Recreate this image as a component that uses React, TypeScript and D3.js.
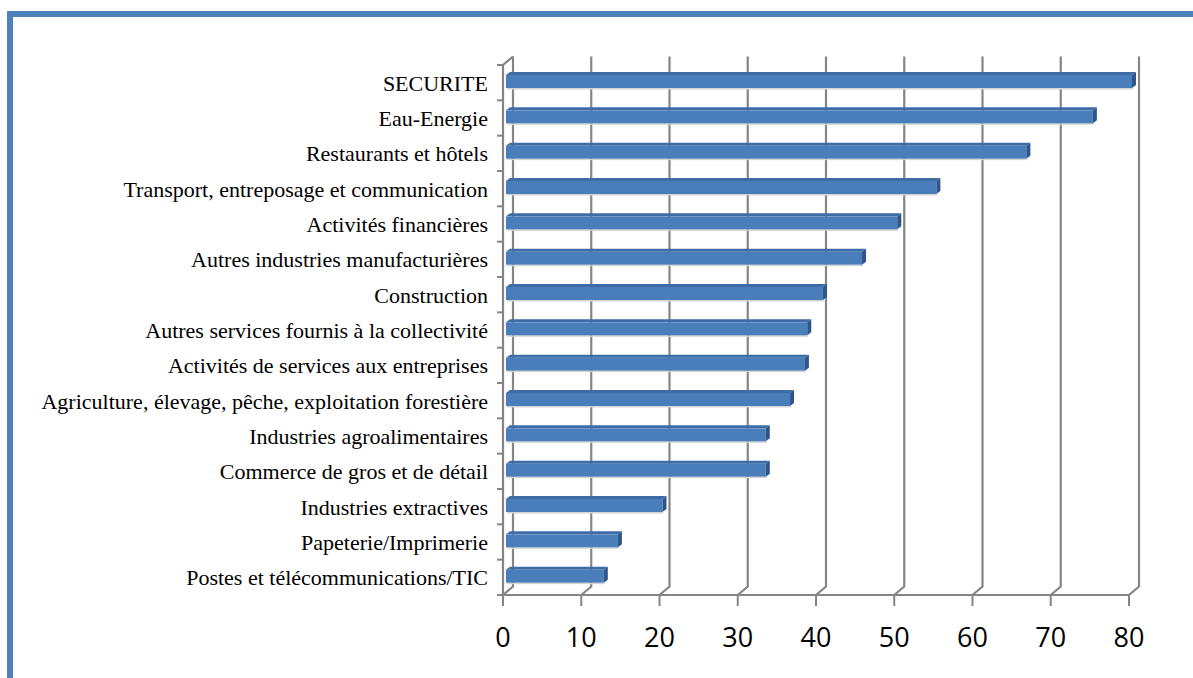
import { useRef, useEffect } from "react";
import * as d3 from "d3";

const categories = [
    "SECURITE",
    "Eau-Energie",
    "Restaurants et hôtels",
    "Transport, entreposage et communication",
    "Activités financières",
    "Autres industries manufacturières",
    "Construction",
    "Autres services fournis à la collectivité",
    "Activités de services aux entreprises",
    "Agriculture, élevage, pêche, exploitation forestière",
    "Industries agroalimentaires",
    "Commerce de gros et de détail",
    "Industries extractives",
    "Papeterie/Imprimerie",
    "Postes et télécommunications/TIC",
];

const values = [80, 75, 66.5, 55, 50, 45.5, 40.5, 38.5, 38.2, 36.3, 33.2, 33.2, 20, 14.3, 12.5];

const tickValues = [0, 10, 20, 30, 40, 50, 60, 70, 80];

const W = 1193;
const H = 678;

export default function App() {
    const svgRef = useRef<SVGSVGElement | null>(null);

    useEffect(() => {
        if (!svgRef.current) return;
        const svg = d3.select(svgRef.current);
        svg.selectAll("*").remove();

        const depth = { dx: 10, dy: -8.5 }; // back wall offset
        const barDepth = { dx: 4, dy: -3 };
        const grid = "#858585";

        const x = d3.scaleLinear().domain([0, 80]).range([503, 1129]);
        const y = d3.scaleBand<string>().domain(categories).range([65, 595]).paddingInner(0);
        const floorY = 595;
        const topY = 65;

        // outer frame
        svg.append("rect")
            .attr("x", 10).attr("y", 14)
            .attr("width", W + 40).attr("height", H + 40)
            .attr("fill", "none")
            .attr("stroke", "#4f81bd")
            .attr("stroke-width", 6);

        const g = svg.append("g");

        // gridlines on back wall + floor diagonals
        tickValues.forEach(t => {
            const fx = x(t);
            const bx = fx + depth.dx;
            g.append("path")
                .attr("d", `M${fx},${floorY} L${bx},${floorY + depth.dy} L${bx},${topY + depth.dy}`)
                .attr("fill", "none")
                .attr("stroke", grid)
                .attr("stroke-width", 2.2);
        });

        // left wall
        g.append("path")
            .attr("d", `M${x(0)},${floorY} L${x(0)},${topY} L${x(0) + depth.dx},${topY + depth.dy}`)
            .attr("fill", "none")
            .attr("stroke", grid)
            .attr("stroke-width", 2.2);

        // floor front edge
        g.append("line")
            .attr("x1", x(0)).attr("x2", x(80))
            .attr("y1", floorY).attr("y2", floorY)
            .attr("stroke", grid)
            .attr("stroke-width", 2.2);

        // category ticks
        d3.range(categories.length + 1).forEach(i => {
            const yy = topY + i * y.step();
            g.append("line")
                .attr("x1", x(0) - 6).attr("x2", x(0))
                .attr("y1", yy).attr("y2", yy)
                .attr("stroke", grid)
                .attr("stroke-width", 2);
        });

        // value ticks
        tickValues.forEach(t => {
            g.append("line")
                .attr("x1", x(t)).attr("x2", x(t))
                .attr("y1", floorY).attr("y2", floorY + 11)
                .attr("stroke", grid)
                .attr("stroke-width", 2);
        });

        // bars
        const bars = g.append("g");
        categories.forEach((c, i) => {
            const x0 = x(0) + 3;
            const x1 = x(values[i]) + 3;
            const yTop = y(c)! + 10;
            const h = 13;
            // soft shadow
            bars.append("rect")
                .attr("x", x0 + 1).attr("y", yTop + h)
                .attr("width", x1 - x0).attr("height", 1.5)
                .attr("fill", "#d4d4d4");
            // top face
            bars.append("path")
                .attr("d", `M${x0},${yTop} L${x1},${yTop} L${x1 + barDepth.dx},${yTop + barDepth.dy} L${x0 + barDepth.dx},${yTop + barDepth.dy} Z`)
                .attr("fill", "#3e6ca6");
            // front face
            bars.append("rect")
                .attr("x", x0).attr("y", yTop)
                .attr("width", x1 - x0).attr("height", h)
                .attr("fill", "#4a7ebb");
            // end cap
            bars.append("path")
                .attr("d", `M${x1},${yTop} L${x1 + barDepth.dx},${yTop + barDepth.dy} L${x1 + barDepth.dx},${yTop + h + barDepth.dy} L${x1},${yTop + h} Z`)
                .attr("fill", "#2f5689");
        });

        // category labels
        g.append("g")
            .selectAll("text")
            .data(categories)
            .enter()
            .append("text")
            .attr("x", 488)
            .attr("y", d => y(d)! + y.bandwidth() / 2 + 8)
            .attr("text-anchor", "end")
            .attr("font-family", "'Liberation Serif', 'Times New Roman', serif")
            .attr("font-size", 22)
            .attr("fill", "#000")
            .text(d => d);

        // value tick labels
        g.append("g")
            .selectAll("text")
            .data(tickValues)
            .enter()
            .append("text")
            .attr("x", d => x(d))
            .attr("y", 647)
            .attr("text-anchor", "middle")
            .attr("font-family", "'Open Sans', sans-serif")
            .attr("font-size", 27)
            .attr("fill", "#000")
            .text(d => d);
    }, []);

    return (
        <svg
            ref={svgRef}
            width={W}
            height={H}
            style={{ position: "absolute", left: 0, top: 0, background: "#fff" }}
        />
    );
}
